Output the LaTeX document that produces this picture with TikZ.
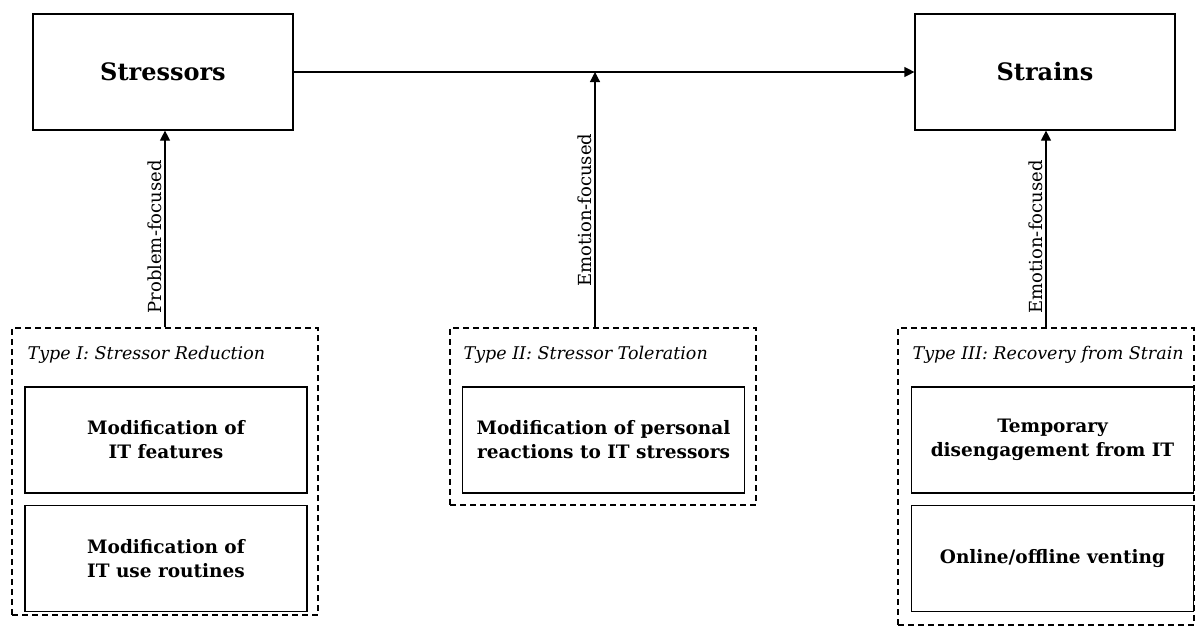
\documentclass[tikz,border=0pt]{standalone}
\usepackage{fontspec}
\setmainfont{DejaVu Serif}
\usepackage{tikz}
\usetikzlibrary{positioning,arrows.meta}

\begin{document}
\begin{tikzpicture}[x=1pt,y=-1pt,>={Triangle[length=10pt,width=10pt]},line width=1.2pt,
  mainbox/.style={draw,rectangle,minimum width=260pt,minimum height=116pt,font=\fontsize{24}{28}\selectfont\bfseries},
  copebox/.style={draw,rectangle,minimum width=282pt,minimum height=106pt,align=center,font=\fontsize{18.5}{24}\selectfont\bfseries},
  groupbox/.style={draw,rectangle,dash pattern=on 6pt off 4pt,line width=1.1pt},
  typetitle/.style={anchor=west,inner sep=0pt,font=\fontsize{17.5}{20}\selectfont\itshape},
  flowlabel/.style={pos=0.46,above,sloped,inner sep=3pt,font=\fontsize{18}{20}\selectfont}]

\useasboundingbox (0,0) rectangle (1196,627);

\node[mainbox] (stressors) at (163,72) {Stressors};
\node[mainbox] (strains) at (1045,72) {Strains};

\draw[->] (stressors) -- (strains);


\node[groupbox, minimum width=306pt, minimum height=287pt] (type1) at (165,471.5) {};
\node[typetitle] (t1) at (27,355) {Type I: Stressor Reduction};
\node[copebox] (features) at (166,440) {Modification of\\IT features};
\node[copebox] (routines) at (166,558.5) {Modification of\\IT use routines};


\node[groupbox, minimum width=306pt, minimum height=177pt] (type2) at (603,416.5) {};
\node[typetitle] (t2) at (463,355) {Type II: Stressor Toleration};
\node[copebox] (reactions) at (603.5,440) {Modification of personal\\reactions to IT stressors};


\node[groupbox, minimum width=296pt, minimum height=297pt] (type3) at (1046,476.5) {};
\node[typetitle] (t3) at (912,355) {Type III: Recovery from Strain};
\node[copebox] (disengage) at (1052.5,440) {Temporary\\disengagement from IT};
\node[copebox] (venting) at (1052.5,558.5) {Online/offline venting};


\coordinate (tol) at (595,328);
\draw[->] (type1.north) -- node[flowlabel] {Problem-focused} (type1.north |- stressors.south);
\draw[->] (tol) -- node[flowlabel] {Emotion-focused} (tol |- stressors.east);
\draw[->] (type3.north) -- node[flowlabel] {Emotion-focused} (type3.north |- strains.south);

\end{tikzpicture}
\end{document}
